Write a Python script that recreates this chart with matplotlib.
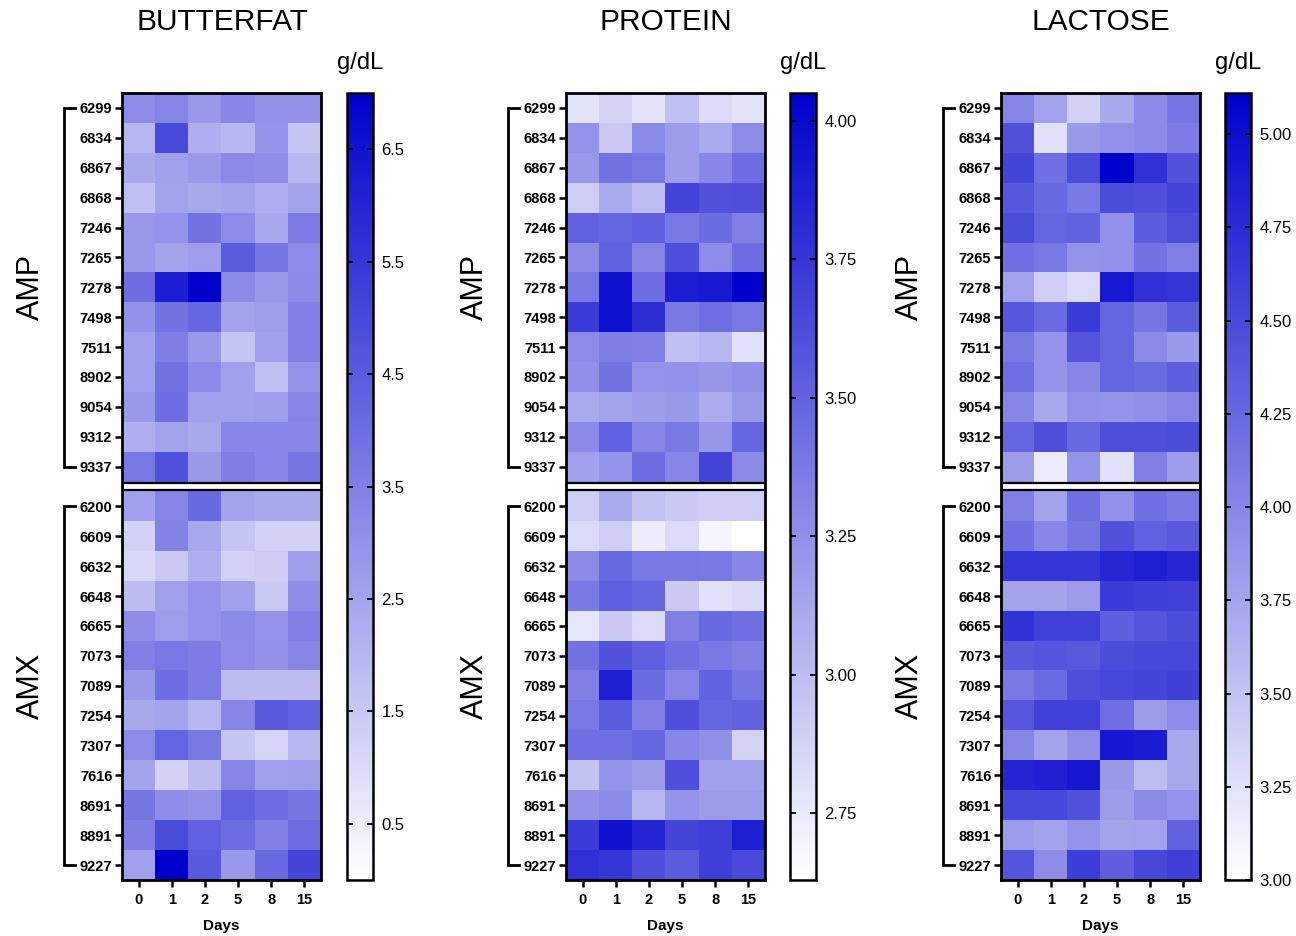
import numpy as np
import matplotlib
matplotlib.use("Agg")
import matplotlib.pyplot as plt
import matplotlib.transforms as mtransforms
from matplotlib.colors import LinearSegmentedColormap
from matplotlib.ticker import FormatStrFormatter

plt.rcParams['font.family'] = ['Liberation Sans', 'DejaVu Sans']

# ---- data ----
days = ['0', '1', '2', '5', '8', '15']
amp_cows = ['6299', '6834', '6867', '6868', '7246', '7265', '7278',
            '7498', '7511', '8902', '9054', '9312', '9337']
amx_cows = ['6200', '6609', '6632', '6648', '6665', '7073', '7089',
            '7254', '7307', '7616', '8691', '8891', '9227']

butterfat_amp = [
    [3.15, 3.35, 2.8, 3.3, 3.0, 3.0],
    [2.0, 5.0, 2.2, 1.95, 2.95, 1.6],
    [2.4, 2.6, 2.8, 3.2, 3.1, 1.95],
    [1.75, 2.5, 2.4, 2.5, 2.2, 2.5],
    [2.8, 2.95, 3.85, 3.15, 2.4, 3.6],
    [2.8, 2.5, 2.7, 4.5, 3.8, 3.15],
    [4.0, 6.2, 7.0, 3.2, 2.8, 3.2],
    [3.0, 3.85, 4.2, 2.5, 2.7, 3.5],
    [2.6, 3.55, 2.8, 1.6, 2.6, 3.5],
    [2.6, 3.9, 3.2, 2.6, 1.75, 2.95],
    [2.8, 4.0, 2.6, 2.6, 2.7, 3.35],
    [2.2, 2.5, 2.4, 3.3, 3.3, 3.3],
    [3.7, 4.8, 2.8, 3.55, 3.3, 3.75],
]
butterfat_amx = [
    [2.6, 3.35, 4.1, 2.5, 2.4, 2.4],
    [1.25, 3.4, 2.4, 1.6, 1.25, 1.25],
    [1.1, 1.5, 2.2, 1.25, 1.4, 2.7],
    [1.85, 2.6, 2.95, 2.6, 1.5, 3.1],
    [3.1, 2.7, 2.95, 3.2, 2.95, 3.5],
    [3.5, 3.7, 3.6, 3.15, 3.0, 3.35],
    [2.8, 4.0, 3.6, 1.85, 1.85, 1.85],
    [2.4, 2.5, 2.0, 3.35, 4.55, 4.3],
    [3.15, 4.25, 3.65, 1.6, 1.15, 2.0],
    [2.5, 1.25, 1.85, 3.35, 2.6, 2.7],
    [3.75, 3.1, 3.0, 4.3, 4.0, 3.75],
    [3.55, 4.9, 4.3, 4.0, 3.5, 4.0],
    [2.6, 7.0, 4.55, 2.8, 4.1, 5.1],
]

protein_amp = [
    [2.79, 2.87, 2.79, 2.99, 2.83, 2.79],
    [3.23, 2.93, 3.28, 3.18, 3.11, 3.27],
    [3.20, 3.41, 3.38, 3.18, 3.30, 3.44],
    [2.91, 3.11, 3.00, 3.67, 3.60, 3.61],
    [3.50, 3.48, 3.52, 3.38, 3.45, 3.34],
    [3.28, 3.50, 3.31, 3.61, 3.27, 3.44],
    [3.38, 3.96, 3.44, 3.89, 3.91, 4.05],
    [3.72, 3.96, 3.79, 3.37, 3.43, 3.38],
    [3.27, 3.35, 3.34, 2.99, 3.03, 2.80],
    [3.25, 3.41, 3.23, 3.24, 3.21, 3.25],
    [3.11, 3.14, 3.18, 3.20, 3.10, 3.20],
    [3.28, 3.51, 3.31, 3.37, 3.21, 3.48],
    [3.16, 3.23, 3.44, 3.31, 3.67, 3.28],
]
protein_amx = [
    [2.91, 3.11, 2.96, 2.93, 2.91, 2.91],
    [2.83, 2.91, 2.74, 2.83, 2.69, 2.63],
    [3.28, 3.47, 3.38, 3.38, 3.37, 3.30],
    [3.37, 3.52, 3.48, 2.93, 2.80, 2.84],
    [2.77, 2.93, 2.83, 3.34, 3.47, 3.43],
    [3.41, 3.60, 3.52, 3.43, 3.37, 3.34],
    [3.34, 3.88, 3.45, 3.31, 3.50, 3.40],
    [3.38, 3.54, 3.34, 3.61, 3.48, 3.50],
    [3.43, 3.43, 3.48, 3.30, 3.25, 2.87],
    [2.96, 3.23, 3.18, 3.61, 3.16, 3.16],
    [3.24, 3.28, 3.04, 3.23, 3.18, 3.18],
    [3.72, 3.95, 3.85, 3.67, 3.70, 3.88],
    [3.78, 3.75, 3.61, 3.54, 3.70, 3.64],
]

lactose_amp = [
    [4.01, 3.78, 3.38, 3.72, 3.97, 4.14],
    [4.43, 3.25, 3.84, 3.91, 3.97, 4.08],
    [4.54, 4.18, 4.48, 5.11, 4.71, 4.43],
    [4.39, 4.24, 4.10, 4.48, 4.46, 4.54],
    [4.48, 4.27, 4.29, 3.91, 4.35, 4.46],
    [4.18, 4.10, 3.89, 3.91, 4.16, 4.06],
    [3.78, 3.42, 3.30, 4.90, 4.69, 4.67],
    [4.39, 4.22, 4.62, 4.27, 4.14, 4.35],
    [4.10, 3.89, 4.41, 4.27, 3.97, 3.84],
    [4.20, 3.89, 4.01, 4.27, 4.22, 4.33],
    [4.01, 3.72, 3.91, 3.89, 3.93, 4.01],
    [4.27, 4.46, 4.24, 4.46, 4.46, 4.48],
    [3.82, 3.17, 3.89, 3.25, 4.06, 3.82],
]
lactose_amx = [
    [4.06, 3.76, 4.18, 3.91, 4.18, 4.10],
    [4.18, 3.99, 4.14, 4.43, 4.31, 4.37],
    [4.67, 4.67, 4.67, 4.79, 4.86, 4.79],
    [3.76, 3.76, 3.82, 4.62, 4.58, 4.56],
    [4.69, 4.56, 4.56, 4.33, 4.41, 4.48],
    [4.37, 4.41, 4.37, 4.48, 4.52, 4.52],
    [4.10, 4.22, 4.46, 4.52, 4.54, 4.58],
    [4.39, 4.56, 4.56, 4.20, 3.82, 3.95],
    [4.01, 3.76, 3.93, 4.92, 4.88, 3.72],
    [4.81, 4.84, 4.92, 3.84, 3.55, 3.72],
    [4.52, 4.52, 4.43, 3.82, 3.97, 3.89],
    [3.82, 3.78, 3.89, 3.76, 3.78, 4.31],
    [4.41, 3.95, 4.60, 4.33, 4.52, 4.58],
]

titles = ['BUTTERFAT', 'PROTEIN', 'LACTOSE']
ranges = [(0.0, 7.0), (2.63, 4.05), (3.0, 5.11)]
cb_ticks = [[0.5, 1.5, 2.5, 3.5, 4.5, 5.5, 6.5],
            [2.75, 3.0, 3.25, 3.5, 3.75, 4.0],
            [3.0, 3.25, 3.5, 3.75, 4.0, 4.25, 4.5, 4.75, 5.0]]
cb_fmt = ['%.1f', '%.2f', '%.2f']

# ---- drawing ----
W, H = 1296, 936
fig = plt.figure(figsize=(W / 100, H / 100), dpi=100)
cmap = LinearSegmentedColormap.from_list('wb', ['#FFFFFF', '#0000CC'])

panel_left = [122, 566, 1001]
cbar_left = [347, 790, 1225]
top_px, bot_px = 93, 880

datasets = [(butterfat_amp, butterfat_amx),
            (protein_amp, protein_amx),
            (lactose_amp, lactose_amx)]

n_amp = len(amp_cows)
n_amx = len(amx_cows)
gap = 0.33          # white band between the two groups, in row units
amx_start = n_amp + gap
y_end = amx_start + n_amx
ncol = len(days)

for i in range(3):
    amp, amx = datasets[i]
    vmin, vmax = ranges[i]

    ax = fig.add_axes([panel_left[i] / W, 1 - bot_px / H,
                       199 / W, (bot_px - top_px) / H])
    im = ax.imshow(np.array(amp), cmap=cmap, vmin=vmin, vmax=vmax,
                   aspect='auto', interpolation='nearest',
                   extent=[-0.5, ncol - 0.5, n_amp, 0])
    ax.imshow(np.array(amx), cmap=cmap, vmin=vmin, vmax=vmax,
              aspect='auto', interpolation='nearest',
              extent=[-0.5, ncol - 0.5, y_end, amx_start])
    ax.set_xlim(-0.5, ncol - 0.5)
    ax.set_ylim(y_end, 0)

    # separator lines between the two groups
    ax.axhline(n_amp + 0.04, color='black', lw=1.6, zorder=3)
    ax.axhline(amx_start - 0.06, color='black', lw=1.6, zorder=3)

    ax.set_xticks(range(ncol))
    ax.set_xticklabels(days, fontweight='bold', fontsize=10.5)
    yt = [k + 0.5 for k in range(n_amp)] + [amx_start + k + 0.5 for k in range(n_amx)]
    ax.set_yticks(yt)
    ax.set_yticklabels(amp_cows + amx_cows, fontweight='bold', fontsize=10.5)
    ax.tick_params(axis='both', length=5, width=1.8, pad=2)
    ax.tick_params(axis='x', pad=4)
    ax.set_xlabel('Days', fontweight='bold', fontsize=11, labelpad=9)
    for sp in ax.spines.values():
        sp.set_linewidth(2.0)

    # group brackets and labels
    trans = mtransforms.blended_transform_factory(ax.transAxes, ax.transData)
    for start, end, name in [(yt[0], yt[n_amp - 1], 'AMP'),
                             (yt[n_amp], yt[-1], 'AMX')]:
        ax.plot([-0.235, -0.29, -0.29, -0.235], [start, start, end, end],
                transform=trans, clip_on=False, color='black', lw=2.0,
                solid_joinstyle='miter')
        ax.text(-0.46, (start + end) / 2, name, transform=trans,
                rotation=90, ha='center', va='center', fontsize=22)

    fig.text((panel_left[i] + 100) / W, 1 - 22 / H, titles[i],
             ha='center', va='center', fontsize=21.5)

    cax = fig.add_axes([cbar_left[i] / W, 1 - bot_px / H,
                        26 / W, (bot_px - top_px) / H])
    cb = fig.colorbar(im, cax=cax, ticks=cb_ticks[i])
    cb.outline.set_linewidth(1.8)
    cax.yaxis.set_major_formatter(FormatStrFormatter(cb_fmt[i]))
    cax.tick_params(axis='y', direction='in', length=4, width=1.3,
                    left=True, right=True, labelleft=False, labelright=True,
                    labelsize=12, pad=6)
    fig.text((cbar_left[i] + 13) / W, 1 - 63 / H, 'g/dL',
             ha='center', va='center', fontsize=17)

fig.savefig('out.png', dpi=100)
